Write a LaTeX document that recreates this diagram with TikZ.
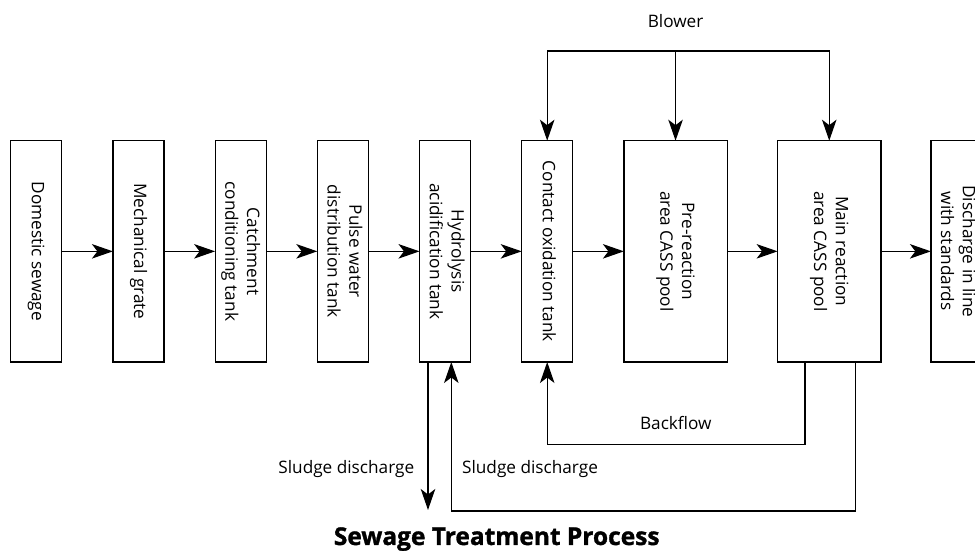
\documentclass[tikz,border=0pt]{standalone}
\usepackage{fontspec}
\setmainfont{Open Sans}
\newfontfamily\titlefont{Open Sans}[BoldFeatures={FakeBold=1.3}]
\usetikzlibrary{arrows.meta, positioning}

\newcommand{\vtext}[1]{\rotatebox{-90}{\begin{tabular}{@{}c@{}}#1\end{tabular}}}

\begin{document}
\begin{tikzpicture}[x=1pt,y=1pt,node distance=51.2pt,>={Stealth[length=21pt,width=14.5pt,inset=5.5pt]},line width=1.2pt,
	tank/.style={draw,minimum width=51pt,minimum height=221.3pt,inner sep=0pt,outer sep=0pt,font=\fontsize{17.2}{21.7}\selectfont},
	widetank/.style={tank,minimum width=103.3pt},
	note/.style={font=\fontsize{17.2}{20}\selectfont}]

	\useasboundingbox (0,0) rectangle (975,551);

	\node (sewage) [tank] at (36.2,299.65) {\vtext{Domestic sewage}};
	\node (grate) [tank, right=of sewage] {\vtext{Mechanical grate}};
	\node (catch) [tank, right=of grate] {\vtext{Catchment\\conditioning tank}};
	\node (pulse) [tank, right=of catch] {\vtext{Pulse water\\distribution tank}};
	\node (hydro) [tank, right=of pulse] {\vtext{Hydrolysis\\acidification tank}};
	\node (contact) [tank, right=of hydro] {\vtext{Contact oxidation tank}};
	\node (pre) [widetank, right=of contact] {\vtext{Pre-reaction\\area CASS pool}};
	\node (main) [widetank, right=50.4pt of pre] {\vtext{Main reaction\\area CASS pool}};
	\node (out) [tank, right=50pt of main] {\vtext{Discharge in line\\with standards}};

	\path [->]
	(sewage) edge (grate)
	(grate) edge (catch)
	(catch) edge (pulse)
	(pulse) edge (hydro)
	(hydro) edge (contact)
	(contact) edge (pre)
	(pre) edge (main)
	(main) edge (out);

	% blower
	\coordinate (air) at (pre.north |- 0,500);
	\node (blower) [note] at (air |- 0,530) {Blower};
	\draw [->] (air) -- (pre.north);
	\draw [->] (air) -| (contact.north);
	\draw [->] (air) -| (main.north);

	% backflow
	\coordinate (back) at (contact.south |- 0,106.7);
	\draw [->] ([xshift=-24.3pt]main.south) |- (back) -- (contact.south);
	\node (backflow) [note] at (675.8,128.3) {Backflow};

	% sludge
	\coordinate (sludge) at (428,41);
	\coordinate (ret) at (451.3,40);
	\draw [->] (hydro.south -| sludge) -- (sludge);
	\draw [->] ([xshift=26pt]main.south) |- (ret) -- (hydro.south -| ret);
	\node (sludge1) [note] at (346.3,81.7) {Sludge discharge};
	\node (sludge2) [note] at (530,81.7) {Sludge discharge};

	\node (title) [font=\titlefont\fontsize{24.5}{28}\selectfont\bfseries, anchor=base] at (496.7,6) {Sewage Treatment Process};

\end{tikzpicture}
\end{document}
